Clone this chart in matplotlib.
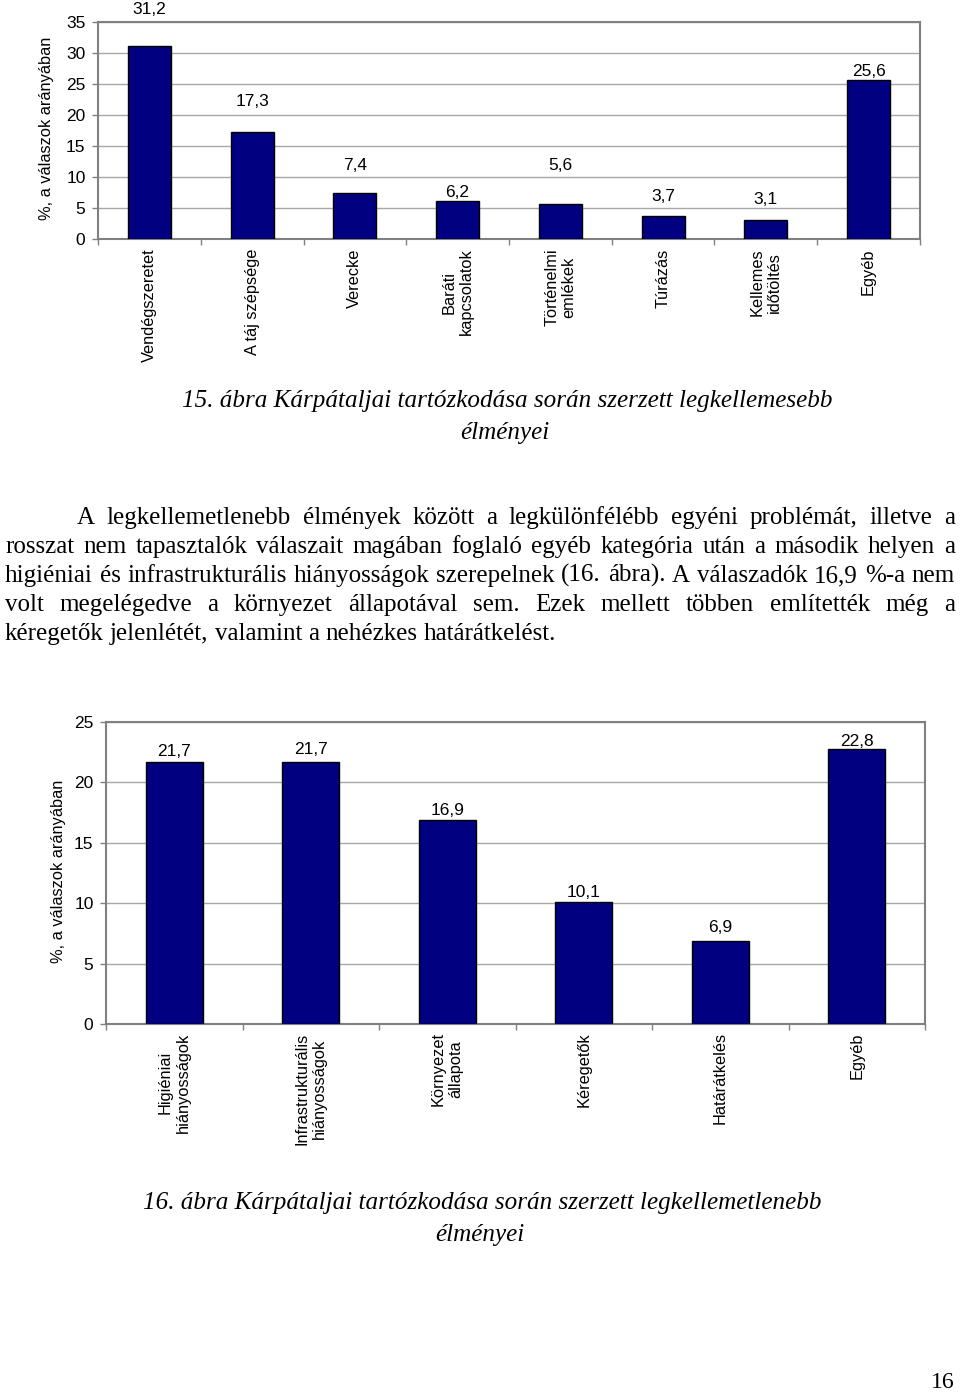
import matplotlib
matplotlib.use("Agg")
import matplotlib.pyplot as plt
import numpy as np

# 15. ábra: legkellemesebb élmények
cats1 = ["Vendégszeretet", "A táj szépsége", "Verecke", "Baráti\nkapcsolatok",
         "Történelmi\nemlékek", "Túrázás", "Kellemes\nidőtöltés", "Egyéb"]
vals1 = [31.2, 17.3, 7.4, 6.2, 5.6, 3.7, 3.1, 25.6]

# 16. ábra: legkellemetlenebb élmények
cats2 = ["Higiéniai\nhiányosságok", "Infrastrukturális\nhiányosságok", "Környezet\nállapota",
         "Kéregetők", "Határátkelés", "Egyéb"]
vals2 = [21.7, 21.7, 16.9, 10.1, 6.9, 22.8]

ylabel = "%, a válaszok arányában"
caption1 = ["15. ábra Kárpátaljai tartózkodása során szerzett legkellemesebb", "élményei"]
caption2 = ["16. ábra Kárpátaljai tartózkodása során szerzett legkellemetlenebb", "élményei"]
body = [
    "A legkellemetlenebb élmények között a legkülönfélébb egyéni problémát, illetve a",
    "rosszat nem tapasztalók válaszait magában foglaló egyéb kategória után a második helyen a",
    "higiéniai és infrastrukturális hiányosságok szerepelnek (16. ábra). A válaszadók 16,9 %-a nem",
    "volt megelégedve a környezet állapotával sem. Ezek mellett többen említették még a",
    "kéregetők jelenlétét, valamint a nehézkes határátkelést.",
]
page_no = "16"

# címkék eltolása az oszlop tetejétől (pixel) - a szkennelt ábra szerint
off1 = [36, 30, 28, 8, 39, 20, 20, 9]
off2 = [10, 12, 9, 9, 13, 7]

W, H, DPI = 960, 1392, 100
SANS = "Liberation Sans"
SERIF = "Liberation Serif"
FS = 11.8      # kategóriák, tengelycím
FS_NUM = 12.5  # számok
NAVY = "#000080"
GRID = "#a8a8a8"
FRAME = "#808080"

fig = plt.figure(figsize=(W / DPI, H / DPI), dpi=DPI)
fig.patch.set_facecolor("white")
renderer = fig.canvas.get_renderer()


def px_axes(l, t, r, b):
    return fig.add_axes([l / W, 1 - b / H, (r - l) / W, (b - t) / H])


def bar_chart(ax, cats, vals, ymax, offs, xpad):
    x = np.arange(len(cats))
    bars = ax.bar(x, vals, width=0.42, color=NAVY, edgecolor="black", linewidth=1.0, zorder=3)
    ax.set_xlim(-0.5, len(cats) - 0.5)
    ax.set_ylim(0, ymax)
    ax.set_yticks(np.arange(0, ymax + 1, 5))
    ax.yaxis.grid(True, color=GRID, linewidth=1.0)
    ax.set_axisbelow(True)
    for s in ax.spines.values():
        s.set_color(FRAME)
        s.set_linewidth(1.5)
    ax.set_xticks(x)
    ax.set_xticklabels(cats, rotation=90, multialignment="center", fontsize=FS, family=SANS)
    ax.set_xticks(np.arange(-0.5, len(cats)), minor=True)
    ax.tick_params(axis="x", which="major", length=0, pad=xpad)
    ax.tick_params(axis="x", which="minor", length=4, color=FRAME, width=1)
    ax.tick_params(axis="y", length=4, color=FRAME, width=1, pad=5, labelsize=FS_NUM)
    for lab in ax.get_yticklabels():
        lab.set_family(SANS)
    for b, v, o in zip(bars, vals, offs):
        ax.annotate(f"{v:.1f}".replace(".", ","), (b.get_x() + b.get_width() / 2, v),
                    xytext=(0, o * 72 / DPI), textcoords="offset points",
                    ha="center", va="center", fontsize=FS_NUM, family=SANS)


ax1 = px_axes(98, 22, 920, 239)
bar_chart(ax1, cats1, vals1, 35, off1, 7)
fig.text(47 / W, 1 - 128 / H, ylabel, rotation=90, ha="center", va="center", fontsize=FS, family=SANS)

ax2 = px_axes(106, 722, 925, 1024)
bar_chart(ax2, cats2, vals2, 25, off2, 6)
fig.text(58 / W, 1 - 871 / H, ylabel, rotation=90, ha="center", va="center", fontsize=FS, family=SANS)


def width_px(s, fs, **kw):
    t = fig.text(0, 0, s, fontsize=fs, family=SERIF, **kw)
    w = t.get_window_extent(renderer).width
    t.remove()
    return w


# betűméret a szkennelt szélességekből
body_fs = 10 * 552 / width_px(body[-1], 10)
cap_fs = 10 * 652 / width_px(caption1[0], 10, style="italic")


def justify(line, x0, x1, y, fs, last=False):
    words = line.split()
    texts = [fig.text(0, 1 - y / H, w, fontsize=fs, family=SERIF, va="baseline") for w in words]
    widths = [t.get_window_extent(renderer).width for t in texts]
    if last or len(words) == 1:
        gap = width_px("a a", fs) - width_px("aa", fs)
    else:
        gap = (x1 - x0 - sum(widths)) / (len(words) - 1)
    x = x0
    for t, w in zip(texts, widths):
        t.set_x(x / W)
        x += w + gap


for i, line in enumerate(body):
    x0 = 77 if i == 0 else 5
    justify(line, x0, 955, 524 + i * 29, body_fs, last=(i == len(body) - 1))

for line, (cx, cy) in zip(caption1, [(507, 401), (505, 433)]):
    fig.text(cx / W, 1 - cy / H, line, ha="center", va="center", fontsize=cap_fs,
             family=SERIF, style="italic")
for line, (cx, cy) in zip(caption2, [(482, 1203), (480, 1235)]):
    fig.text(cx / W, 1 - cy / H, line, ha="center", va="center", fontsize=cap_fs,
             family=SERIF, style="italic")

fig.text(943 / W, 1 - 1382 / H, page_no, ha="center", va="center", fontsize=body_fs * 0.95, family=SERIF)

fig.savefig("out.png", dpi=DPI)
